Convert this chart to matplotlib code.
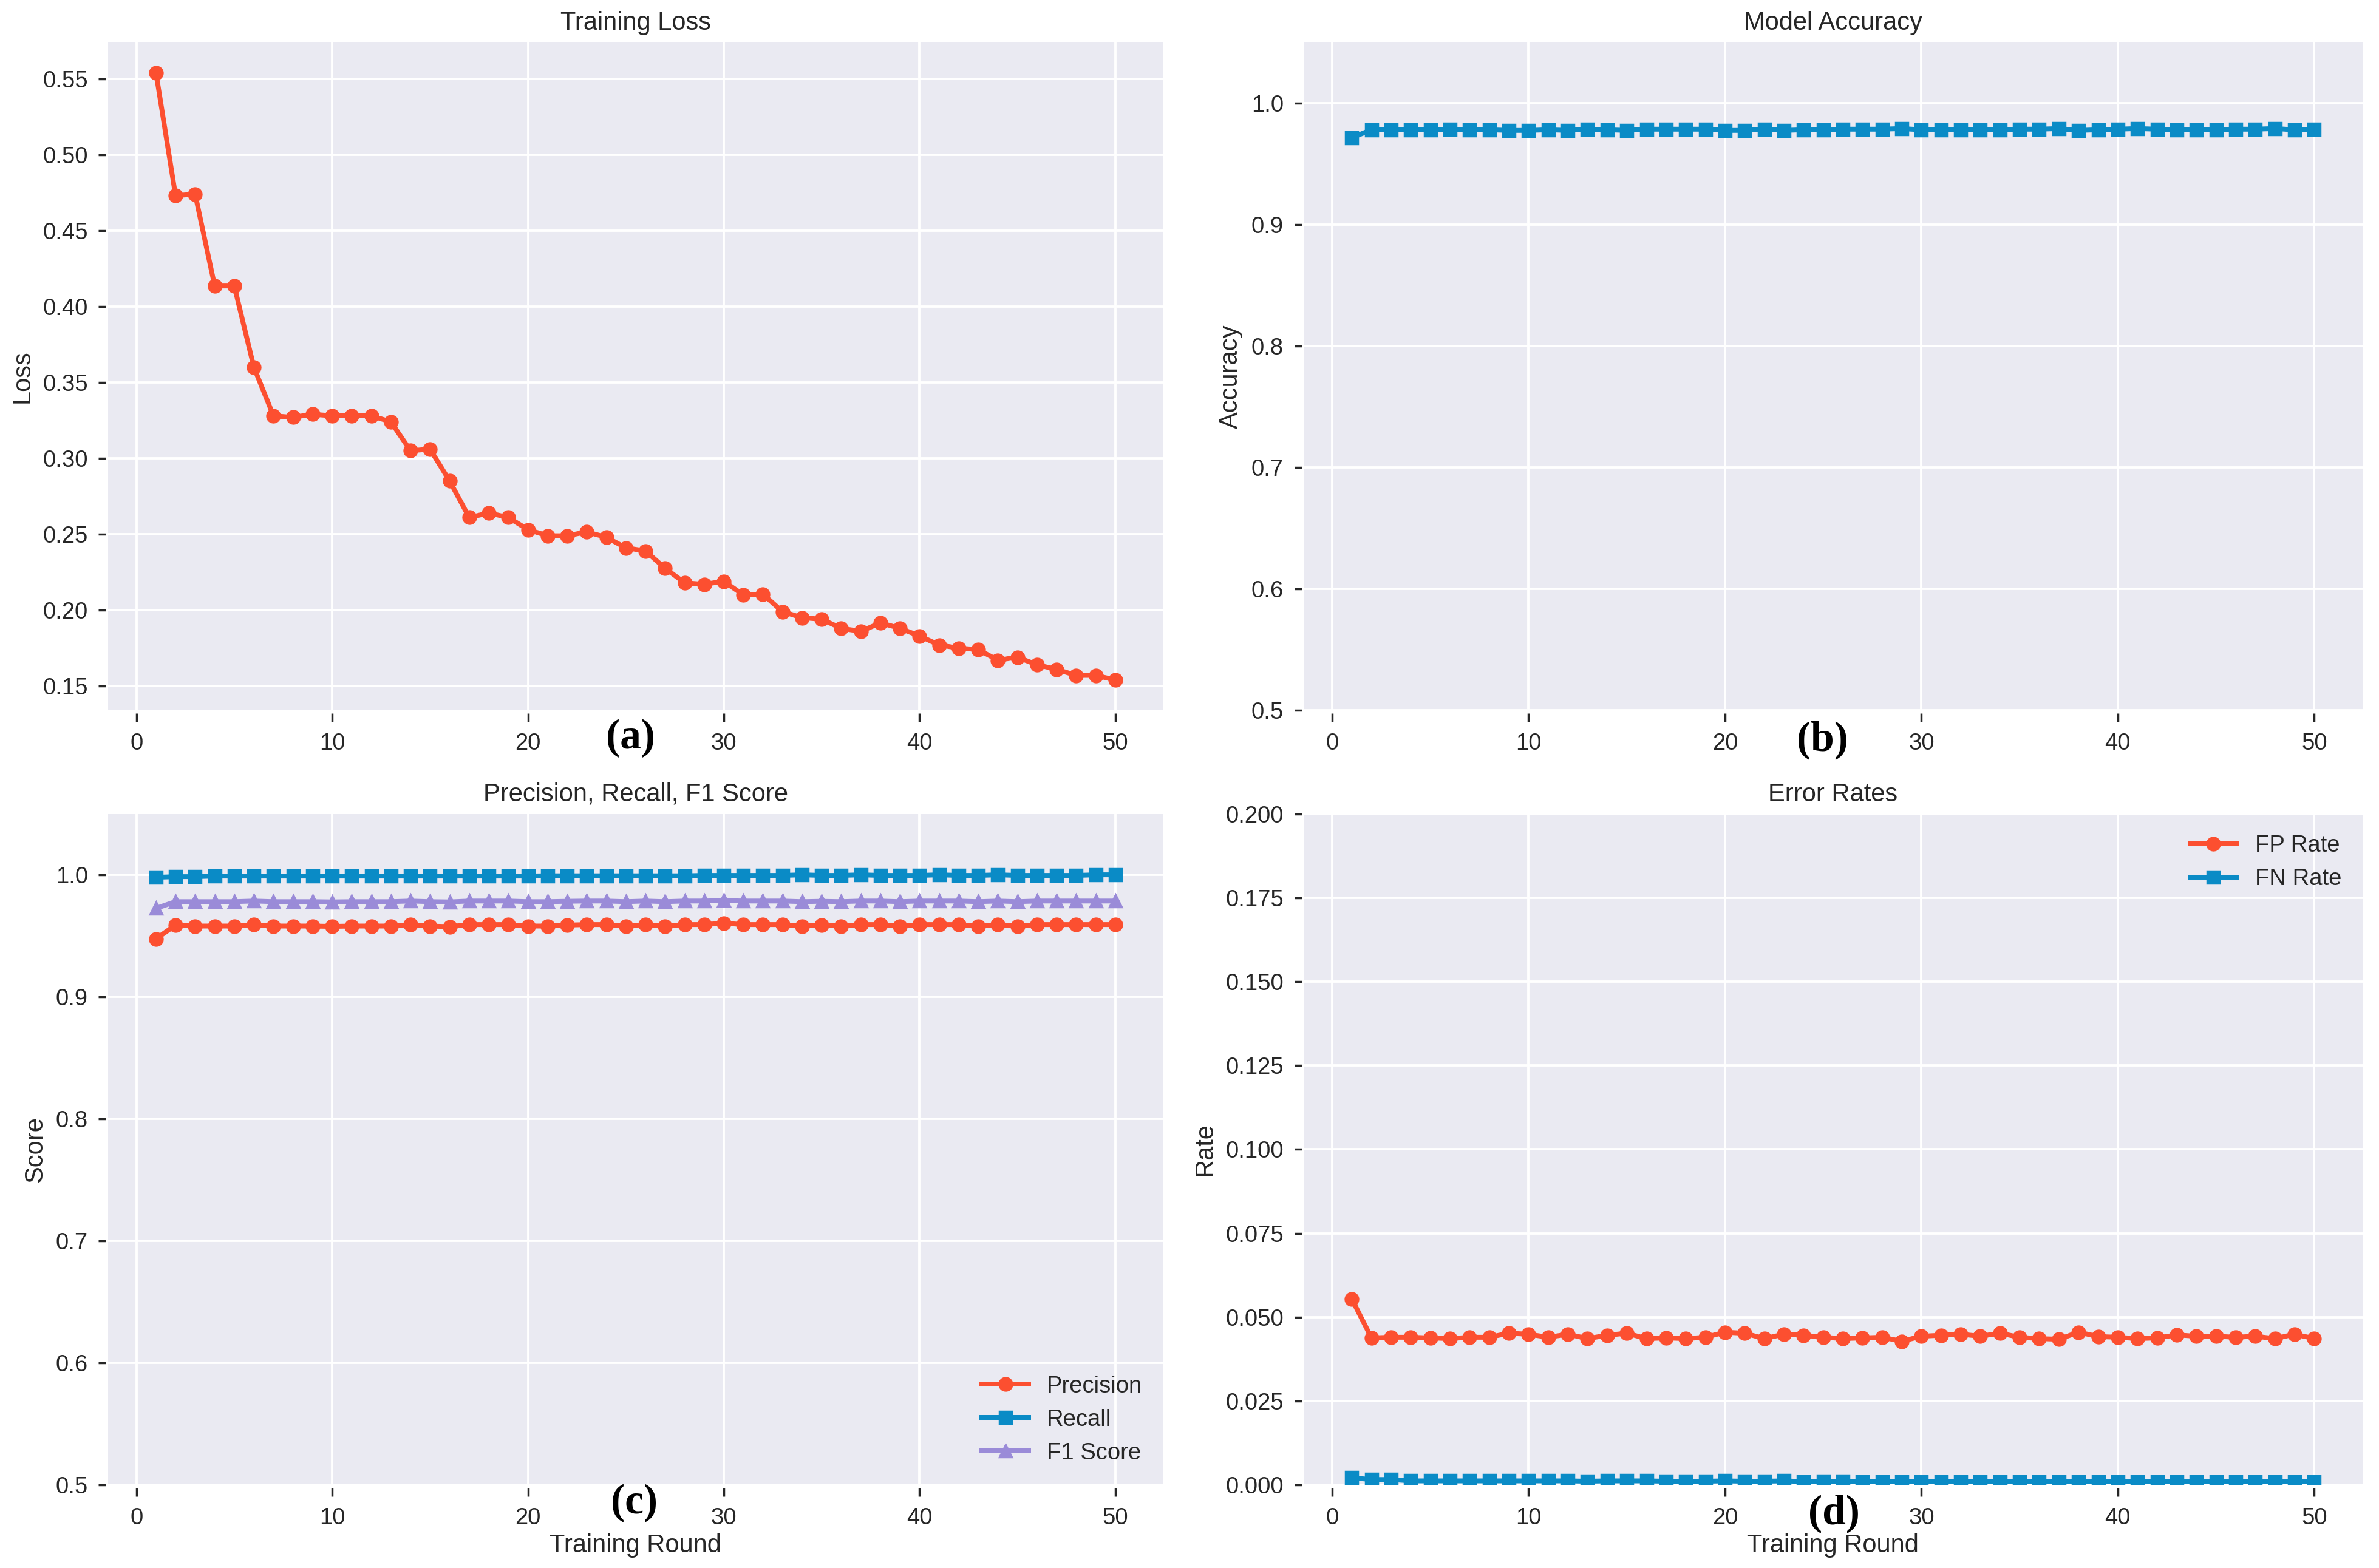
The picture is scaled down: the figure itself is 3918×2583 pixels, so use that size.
import numpy as np
import matplotlib
matplotlib.use("Agg")
import matplotlib.pyplot as plt

# training rounds 1..50
rounds = list(range(1, 51))

# values
loss = [0.554, 0.473, 0.474, 0.4135, 0.4135, 0.360, 0.328, 0.327, 0.329, 0.328,
        0.328, 0.328, 0.324, 0.305, 0.306, 0.285, 0.261, 0.264, 0.261, 0.253,
        0.249, 0.249, 0.2515, 0.248, 0.241, 0.239, 0.2276, 0.218, 0.217, 0.219,
        0.210, 0.2105, 0.199, 0.195, 0.194, 0.188, 0.186, 0.1916, 0.188, 0.183,
        0.177, 0.175, 0.174, 0.167, 0.169, 0.164, 0.161, 0.157, 0.157, 0.154]

accuracy = [0.9715, 0.978, 0.978, 0.978, 0.978, 0.9785, 0.978, 0.978, 0.9775, 0.9775,
            0.978, 0.9775, 0.9785, 0.978, 0.9775, 0.9785, 0.9785, 0.9785, 0.9785, 0.9775,
            0.9775, 0.9785, 0.9775, 0.978, 0.978, 0.9785, 0.9785, 0.9785, 0.979, 0.978,
            0.978, 0.978, 0.978, 0.978, 0.9785, 0.9785, 0.979, 0.9775, 0.978, 0.9785,
            0.979, 0.9785, 0.978, 0.978, 0.978, 0.9785, 0.9785, 0.979, 0.978, 0.9785]

precision = [0.9475, 0.9588, 0.958, 0.958, 0.958, 0.9592, 0.958, 0.958, 0.958, 0.9577,
             0.958, 0.958, 0.958, 0.9592, 0.958, 0.9575, 0.9592, 0.9592, 0.9592, 0.958,
             0.958, 0.9588, 0.9592, 0.9592, 0.958, 0.9592, 0.958, 0.9592, 0.9592, 0.9603,
             0.9592, 0.9592, 0.9592, 0.958, 0.9588, 0.958, 0.9592, 0.9592, 0.958, 0.9592,
             0.9592, 0.9592, 0.958, 0.9592, 0.958, 0.9592, 0.9592, 0.9592, 0.9592, 0.9592]

recall = [0.998, 0.9985, 0.9985, 0.999, 0.999, 0.999, 0.999, 0.999, 0.999, 0.999,
          0.999, 0.999, 0.999, 0.999, 0.999, 0.999, 0.999, 0.999, 0.999, 0.999,
          0.9992, 0.9992, 0.9992, 0.9992, 0.9992, 0.9992, 0.9992, 0.9992, 0.9995, 0.9995,
          0.9995, 0.9995, 0.9995, 1.0, 0.9995, 0.9995, 1.0, 0.9995, 0.9995, 0.9995,
          1.0, 0.9995, 0.9995, 1.0, 0.9995, 0.9995, 0.9995, 0.9995, 1.0, 1.0]

f1 = [0.9725, 0.978, 0.978, 0.978, 0.978, 0.9785, 0.978, 0.978, 0.978, 0.9778,
      0.978, 0.978, 0.978, 0.9785, 0.978, 0.9778, 0.9785, 0.9785, 0.9785, 0.978,
      0.978, 0.9783, 0.9785, 0.9785, 0.978, 0.9785, 0.978, 0.9785, 0.9785, 0.979,
      0.9785, 0.9785, 0.9785, 0.978, 0.9783, 0.978, 0.9785, 0.9785, 0.978, 0.9785,
      0.9785, 0.9785, 0.978, 0.9785, 0.978, 0.9785, 0.9785, 0.9785, 0.9785, 0.9785]

fp_rate = [0.0554, 0.0438, 0.044, 0.044, 0.0438, 0.0436, 0.044, 0.044, 0.0452, 0.0449,
           0.044, 0.0449, 0.0436, 0.0446, 0.0452, 0.0436, 0.0438, 0.0436, 0.044, 0.0455,
           0.0452, 0.0436, 0.0449, 0.0446, 0.044, 0.0436, 0.0438, 0.044, 0.0428, 0.0443,
           0.0446, 0.0449, 0.0443, 0.0452, 0.044, 0.0436, 0.0434, 0.0455, 0.0442, 0.044,
           0.0436, 0.0438, 0.0447, 0.0443, 0.0443, 0.044, 0.0443, 0.0436, 0.0449, 0.0436]

fn_rate = [0.0021, 0.0016, 0.0016, 0.0012, 0.0012, 0.0012, 0.0012, 0.0012, 0.0012, 0.0012,
           0.0012, 0.0012, 0.0011, 0.0012, 0.0012, 0.0012, 0.0011, 0.0011, 0.0011, 0.0012,
           0.0011, 0.0011, 0.0012, 0.0010, 0.0011, 0.0011, 0.0010, 0.0010, 0.0010, 0.0010,
           0.0010, 0.0010, 0.0010, 0.0010, 0.0010, 0.0010, 0.0010, 0.0010, 0.0010, 0.0010,
           0.0010, 0.0010, 0.0010, 0.0010, 0.0010, 0.0010, 0.0010, 0.0010, 0.0010, 0.0010]

red = '#FC4F30'
blue = '#0A8BC6'
purple = '#9A8BD8'

plt.rcParams['font.family'] = ['Liberation Sans', 'DejaVu Sans']
plt.rcParams['axes.facecolor'] = '#EAEAF2'
plt.rcParams['axes.edgecolor'] = 'white'
plt.rcParams['axes.grid'] = True
plt.rcParams['grid.color'] = 'white'
plt.rcParams['grid.linewidth'] = 1.1
plt.rcParams['axes.axisbelow'] = True
plt.rcParams['text.color'] = '#262626'
plt.rcParams['axes.labelcolor'] = '#262626'
plt.rcParams['xtick.labelsize'] = 11
plt.rcParams['ytick.labelsize'] = 11
plt.rcParams['xtick.color'] = '#262626'
plt.rcParams['ytick.color'] = '#262626'
plt.rcParams['xtick.major.size'] = 4
plt.rcParams['ytick.major.size'] = 3.5
plt.rcParams['xtick.major.width'] = 1.0
plt.rcParams['ytick.major.width'] = 1.0
plt.rcParams['xtick.major.pad'] = 5
plt.rcParams['ytick.major.pad'] = 5

fig = plt.figure(figsize=(15.672, 10.332), dpi=250)
ax_loss = fig.add_axes([0.0454, 0.547, 0.4436, 0.426])
ax_acc = fig.add_axes([0.548, 0.547, 0.4450, 0.426])
ax_prf = fig.add_axes([0.0454, 0.053, 0.4436, 0.428])
ax_err = fig.add_axes([0.548, 0.053, 0.4450, 0.428])

lw = 2.3
ms = 6

ax_loss.plot(rounds, loss, color=red, marker='o', lw=lw, ms=ms)
ax_loss.set_title('Training Loss', fontsize=12)
ax_loss.set_ylabel('Loss', fontsize=12)
ax_loss.set_yticks(np.arange(0.15, 0.5501, 0.05))

ax_acc.plot(rounds, accuracy, color=blue, marker='s', lw=lw, ms=ms)
ax_acc.set_title('Model Accuracy', fontsize=12)
ax_acc.set_ylabel('Accuracy', fontsize=12)
ax_acc.set_ylim(0.5, 1.05)

ax_prf.plot(rounds, precision, color=red, marker='o', lw=lw, ms=ms, label='Precision')
ax_prf.plot(rounds, recall, color=blue, marker='s', lw=lw, ms=ms, label='Recall')
ax_prf.plot(rounds, f1, color=purple, marker='^', lw=lw, ms=ms, label='F1 Score')
ax_prf.set_title('Precision, Recall, F1 Score', fontsize=12)
ax_prf.set_ylabel('Score', fontsize=12)
ax_prf.set_xlabel('Training Round', fontsize=12, labelpad=2)
ax_prf.set_ylim(0.5, 1.05)
ax_prf.legend(loc='lower right', frameon=False, fontsize=11)

ax_err.plot(rounds, fp_rate, color=red, marker='o', lw=lw, ms=ms, label='FP Rate')
ax_err.plot(rounds, fn_rate, color=blue, marker='s', lw=lw, ms=ms, label='FN Rate')
ax_err.set_title('Error Rates', fontsize=12)
ax_err.set_ylabel('Rate', fontsize=12)
ax_err.set_xlabel('Training Round', fontsize=12, labelpad=2)
ax_err.set_ylim(0, 0.2)
ax_err.legend(loc='upper right', frameon=False, fontsize=11)

for ax in [ax_loss, ax_acc, ax_prf, ax_err]:
    ax.set_xticks([0, 10, 20, 30, 40, 50])
    for side in ['top', 'right', 'left', 'bottom']:
        ax.spines[side].set_visible(False)
    # ticks sit a little away from the plot area, like in the original
    ax.spines['bottom'].set_position(('outward', 1.5))
    ax.spines['left'].set_position(('outward', 1))

# panel letters
serif = ['Liberation Serif', 'DejaVu Serif']
fig.text(0.265, 0.529, '(a)', fontsize=20, fontweight='bold', family=serif, ha='center', va='center', color='black')
fig.text(0.766, 0.528, '(b)', fontsize=20, fontweight='bold', family=serif, ha='center', va='center', color='black')
fig.text(0.2665, 0.0414, '(c)', fontsize=20, fontweight='bold', family=serif, ha='center', va='center', color='black')
fig.text(0.771, 0.0348, '(d)', fontsize=20, fontweight='bold', family=serif, ha='center', va='center', color='black')

fig.savefig('out.png', dpi=250, facecolor='white')
